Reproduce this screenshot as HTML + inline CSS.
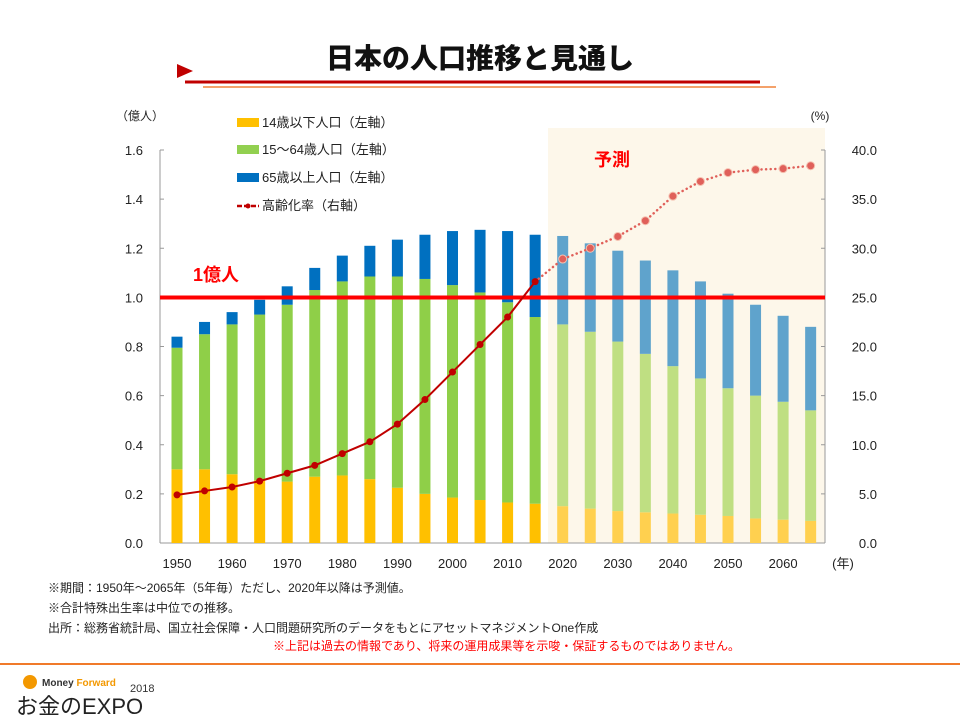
<!DOCTYPE html>
<html><head><meta charset="utf-8"><style>
body{margin:0;width:960px;height:720px;background:#fff;overflow:hidden;font-family:"Liberation Sans","Noto Sans CJK JP",sans-serif}
svg text{font-family:"Liberation Sans","Noto Sans CJK JP",sans-serif}
</style></head><body>
<svg id="c" width="960" height="720">
<text x="480" y="68" text-anchor="middle" font-size="28" font-weight="900" fill="#111">日本の人口推移と見通し</text>
<polygon points="177,64 177,78 193,71" fill="#c00000"/>
<line x1="185" y1="82" x2="760" y2="82" stroke="#c00000" stroke-width="3"/>
<line x1="203" y1="87" x2="776" y2="87" stroke="#f4a26b" stroke-width="2"/>
<rect x="548" y="128" width="277" height="415" fill="#fdf7ea"/>
<text x="612" y="166" text-anchor="middle" font-size="18" font-weight="bold" fill="#ff0000">予測</text>
<text x="140" y="120" text-anchor="middle" font-size="12" fill="#222">（億人）</text>
<text x="820" y="120" text-anchor="middle" font-size="12" fill="#222">(%)</text>
<text x="843" y="568" text-anchor="middle" font-size="13" fill="#222">(年)</text>
<g id="axes"></g><g id="bars"></g>
<line x1="160" y1="297.5" x2="825" y2="297.5" stroke="#ff0000" stroke-width="4"/>
<text x="193" y="281" font-size="18" font-weight="bold" fill="#ff0000">1億人</text>
<g id="line"></g>
<g font-size="13" fill="#222">
<rect x="237" y="118" width="22" height="9" fill="#ffc000"/>
<text x="262" y="127">14歳以下人口（左軸）</text>
<rect x="237" y="145" width="22" height="9" fill="#92d050"/>
<text x="262" y="154">15～64歳人口（左軸）</text>
<rect x="237" y="173" width="22" height="9" fill="#0070c0"/>
<text x="262" y="182">65歳以上人口（左軸）</text>
<line x1="237" y1="206" x2="259" y2="206" stroke="#c00000" stroke-width="2.5" stroke-dasharray="5,2"/>
<circle cx="248" cy="206" r="2.5" fill="#c00000"/>
<text x="262" y="210">高齢化率（右軸）</text>
</g>
<g font-size="12" fill="#222">
<text x="48" y="592">※期間：1950年～2065年（5年毎）ただし、2020年以降は予測値。</text>
<text x="48" y="612">※合計特殊出生率は中位での推移。</text>
<text x="48" y="632">出所：総務省統計局、国立社会保障・人口問題研究所のデータをもとにアセットマネジメントOne作成</text>
<text x="740" y="650" text-anchor="end" fill="#ff0000">※上記は過去の情報であり、将来の運用成果等を示唆・保証するものではありません。</text>
</g>
<line x1="0" y1="664" x2="960" y2="664" stroke="#f07a2a" stroke-width="2"/>
<circle cx="30" cy="682" r="7" fill="#f39800"/>
<text x="42" y="686" font-size="10" font-weight="bold" fill="#333">Money <tspan fill="#f39800">Forward</tspan></text>
<text x="130" y="692" font-size="11" fill="#333">2018</text>
<text x="16" y="714" font-size="22" fill="#222">お金のEXPO</text>
</svg>
<script>
const years=[1950,1955,1960,1965,1970,1975,1980,1985,1990,1995,2000,2005,2010,2015,2020,2025,2030,2035,2040,2045,2050,2055,2060,2065];
const young=[0.30,0.30,0.28,0.255,0.25,0.27,0.275,0.26,0.225,0.20,0.185,0.175,0.165,0.16,0.15,0.14,0.13,0.125,0.12,0.115,0.11,0.10,0.095,0.09];
const working=[0.495,0.55,0.61,0.675,0.72,0.76,0.79,0.825,0.86,0.875,0.865,0.845,0.815,0.76,0.74,0.72,0.69,0.645,0.60,0.555,0.52,0.50,0.48,0.45];
const elderly=[0.045,0.05,0.05,0.06,0.075,0.09,0.105,0.125,0.15,0.18,0.22,0.255,0.29,0.335,0.36,0.36,0.37,0.38,0.39,0.395,0.385,0.37,0.35,0.34];
const agingRate=[4.9,5.3,5.7,6.3,7.1,7.9,9.1,10.3,12.1,14.6,17.4,20.2,23.0,26.6,28.9,30.0,31.2,32.8,35.3,36.8,37.7,38.0,38.1,38.4];
const leftTicks=[0,0.2,0.4,0.6,0.8,1.0,1.2,1.4,1.6];
const rightTicks=[0,5,10,15,20,25,30,35,40];
const xLabels=[1950,1960,1970,1980,1990,2000,2010,2020,2030,2040,2050,2060];
const forecastStart=2020;
const NS="http://www.w3.org/2000/svg";
const X0=160,X1=825,Y0=543,Y1=150;
const x=yr=>177+(yr-1950)/5*27.55;
const yL=v=>Y0-v/1.6*(Y0-Y1);
const yR=v=>Y0-v/40*(Y0-Y1);
function mk(t,a,p){const e=document.createElementNS(NS,t);for(const k in a)e.setAttribute(k,a[k]);p.appendChild(e);return e;}
const ax=document.getElementById('axes');
let l=mk('line',{x1:X0,y1:Y1,x2:X0,y2:Y0,stroke:'#999'},ax);


l=mk('line',{x1:X1,y1:Y1,x2:X1,y2:Y0,stroke:'#999'},ax);


l=mk('line',{x1:X0,y1:Y0,x2:X1,y2:Y0,stroke:'#999'},ax);


leftTicks.forEach(v=>{const t=mk('text',{x:143,y:yL(v)+5,'text-anchor':'end','font-size':13,fill:'#222'},ax);t.textContent=v.toFixed(1);


mk('line',{x1:X0,y1:yL(v),x2:X0+4,y2:yL(v),stroke:'#999'},ax);});
rightTicks.forEach(v=>{const t=mk('text',{x:877,y:yR(v)+5,'text-anchor':'end','font-size':13,fill:'#222'},ax);t.textContent=v.toFixed(1);


mk('line',{x1:X1-4,y1:yR(v),x2:X1,y2:yR(v),stroke:'#999'},ax);});
xLabels.forEach(v=>{const t=mk('text',{x:x(v),y:568,'text-anchor':'middle','font-size':13,fill:'#222'},ax);t.textContent=v;

});
const bg=document.getElementById('bars');
years.forEach((yr,i)=>{const f=yr>=forecastStart;const cx=x(yr),w=11;
const c=f?['#ffd04f','#bfdf82','#5fa3cc']:['#ffc000','#8fcf48','#0070c0'];
const segs=[young[i],working[i],elderly[i]];const names=['bar-young','bar-working','bar-elderly'];let base=0;
segs.forEach((v,k)=>{const r=mk('rect',{x:cx-w/2,y:yL(base+v),width:w,height:yL(base)-yL(base+v),fill:c[k]},bg);


base+=v;});});
const lg=document.getElementById('line');
const solid=[],dot=[];
years.forEach((yr,i)=>{const p=x(yr)+','+yR(agingRate[i]);if(yr<=2015)solid.push(p);if(yr>=2015)dot.push(p);});
let pl=mk('polyline',{points:solid.join(' '),fill:'none',stroke:'#c00000','stroke-width':2},lg);


pl=mk('polyline',{points:dot.join(' '),fill:'none',stroke:'#e0605a','stroke-width':2.5,'stroke-dasharray':'0.1,4.5','stroke-linecap':'round'},lg);


years.forEach((yr,i)=>{const f=yr>2015;const c=mk('circle',{cx:x(yr),cy:yR(agingRate[i]),r:f?4:3.5,fill:f?'#e0605a':'#c00000',stroke:f?'#f5c0b0':'none'},lg);

});
</script>
</body></html>
